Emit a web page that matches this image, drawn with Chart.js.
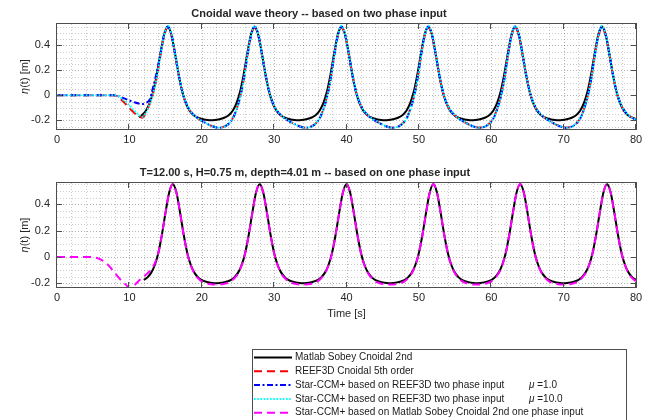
<!DOCTYPE html>
<html>
<head>
<meta charset="utf-8">
<script src="https://cdn.jsdelivr.net/npm/chart.js@4.4.1/dist/chart.umd.min.js"></script>
<style>
  html, body { margin: 0; padding: 0; background: #ffffff; }
  #wrap { position: relative; width: 649px; height: 420px; overflow: hidden; background: #ffffff; }
  canvas { position: absolute; left: 0; }
  #top { top: 0; }
  #bottom { top: 160px; }
</style>
</head>
<body>
<div id="wrap">
  <canvas id="top" width="649" height="160"></canvas>
  <canvas id="bottom" width="649" height="260"></canvas>
</div>
<script>
// ---------- time samples [s] ----------
const tTop = [
  0, 2, 4, 6, 7.8,
  8.3, 8.8, 9.3, 9.8, 10.3, 10.8, 11.3, 11.8, 12.3, 12.8, 13.3, 13.8, 14.3, 14.8,
  15.3, 15.8, 16.3, 16.8, 17.3, 17.8, 18.3, 18.8, 19.3, 19.8, 20.3, 20.8, 21.3, 21.8, 22.3, 22.8, 23.3, 23.8, 24.3, 24.8, 25.3, 25.8, 26.3, 26.8,
  27.3, 27.8, 28.3, 28.8, 29.3, 29.8, 30.3, 30.8, 31.3, 31.8, 32.3, 32.8, 33.3, 33.8, 34.3, 34.8, 35.3, 35.8, 36.3, 36.8, 37.3, 37.8, 38.3, 38.8,
  39.3, 39.8, 40.3, 40.8, 41.3, 41.8, 42.3, 42.8, 43.3, 43.8, 44.3, 44.8, 45.3, 45.8, 46.3, 46.8, 47.3, 47.8, 48.3, 48.8, 49.3, 49.8, 50.3, 50.8,
  51.3, 51.8, 52.3, 52.8, 53.3, 53.8, 54.3, 54.8, 55.3, 55.8, 56.3, 56.8, 57.3, 57.8, 58.3, 58.8, 59.3, 59.8, 60.3, 60.8, 61.3, 61.8, 62.3, 62.8,
  63.3, 63.8, 64.3, 64.8, 65.3, 65.8, 66.3, 66.8, 67.3, 67.8, 68.3, 68.8, 69.3, 69.8, 70.3, 70.8, 71.3, 71.8, 72.3, 72.8, 73.3, 73.8, 74.3, 74.8,
  75.3, 75.8, 76.3, 76.8, 77.3, 77.8, 78.3, 78.8, 79.3, 79.8,
  80
];

const tBottom = [
  0, 2, 4,
  5, 5.5, 6, 6.5, 7, 7.5, 8, 8.5, 9, 9.5, 10, 10.5, 11, 11.5,
  12, 12.5, 13, 13.5, 14, 14.5, 15, 15.5,
  16, 16.5, 17, 17.5, 18, 18.5, 19, 19.5, 20, 20.5, 21, 21.5, 22, 22.5, 23, 23.5, 24, 24.5, 25, 25.5, 26, 26.5, 27, 27.5,
  28, 28.5, 29, 29.5, 30, 30.5, 31, 31.5, 32, 32.5, 33, 33.5, 34, 34.5, 35, 35.5, 36, 36.5, 37, 37.5, 38, 38.5, 39, 39.5,
  40, 40.5, 41, 41.5, 42, 42.5, 43, 43.5, 44, 44.5, 45, 45.5, 46, 46.5, 47, 47.5, 48, 48.5, 49, 49.5, 50, 50.5, 51, 51.5,
  52, 52.5, 53, 53.5, 54, 54.5, 55, 55.5, 56, 56.5, 57, 57.5, 58, 58.5, 59, 59.5, 60, 60.5, 61, 61.5, 62, 62.5, 63, 63.5,
  64, 64.5, 65, 65.5, 66, 66.5, 67, 67.5, 68, 68.5, 69, 69.5, 70, 70.5, 71, 71.5, 72, 72.5, 73, 73.5, 74, 74.5, 75, 75.5,
  76, 76.5, 77, 77.5, 78, 78.5, 79, 79.5, 80
];

// ---------- surface elevation eta(t) [m], two phase input ----------
const sobeyTop = [
  null, null, null, null, null,
  null, null, null, null, null, null, -0.175, -0.155, -0.121, -0.063, 0.030, 0.170, 0.338, 0.488,
  0.550, 0.488, 0.338, 0.170, 0.030, -0.063, -0.121, -0.155, -0.175, -0.186, -0.193, -0.197, -0.199, -0.197, -0.193, -0.186, -0.175, -0.155, -0.121, -0.063, 0.030, 0.170, 0.338, 0.488,
  0.550, 0.488, 0.338, 0.170, 0.030, -0.063, -0.121, -0.155, -0.175, -0.186, -0.193, -0.197, -0.199, -0.197, -0.193, -0.186, -0.175, -0.155, -0.121, -0.063, 0.030, 0.170, 0.338, 0.488,
  0.550, 0.488, 0.338, 0.170, 0.030, -0.063, -0.121, -0.155, -0.175, -0.186, -0.193, -0.197, -0.199, -0.197, -0.193, -0.186, -0.175, -0.155, -0.121, -0.063, 0.030, 0.170, 0.338, 0.488,
  0.550, 0.488, 0.338, 0.170, 0.030, -0.063, -0.121, -0.155, -0.175, -0.186, -0.193, -0.197, -0.199, -0.197, -0.193, -0.186, -0.175, -0.155, -0.121, -0.063, 0.030, 0.170, 0.338, 0.488,
  0.550, 0.488, 0.338, 0.170, 0.030, -0.063, -0.121, -0.155, -0.175, -0.186, -0.193, -0.197, -0.199, -0.197, -0.193, -0.186, -0.175, -0.155, -0.121, -0.063, 0.030, 0.170, 0.338, 0.488,
  0.550, 0.488, 0.338, 0.170, 0.030, -0.063, -0.121, -0.155, -0.175, -0.186,
  -0.190
];

const reef3d = [
  0, 0, 0, 0, 0,
  -0.008, -0.030, -0.058, -0.090, -0.120, -0.147, -0.168, -0.179, -0.140, -0.070, 0.020, 0.150, 0.320, 0.478,
  0.542, 0.482, 0.332, 0.165, 0.030, -0.060, -0.117, -0.153, -0.178, -0.198, -0.215, -0.231, -0.244, -0.254, -0.259, -0.256, -0.245, -0.222, -0.183, -0.112, -0.012, 0.128, 0.318, 0.476,
  0.542, 0.482, 0.332, 0.165, 0.030, -0.060, -0.117, -0.153, -0.178, -0.198, -0.215, -0.231, -0.244, -0.254, -0.259, -0.256, -0.245, -0.222, -0.183, -0.112, -0.012, 0.128, 0.318, 0.476,
  0.542, 0.482, 0.332, 0.165, 0.030, -0.060, -0.117, -0.153, -0.178, -0.198, -0.215, -0.231, -0.244, -0.254, -0.259, -0.256, -0.245, -0.222, -0.183, -0.112, -0.012, 0.128, 0.318, 0.476,
  0.542, 0.482, 0.332, 0.165, 0.030, -0.060, -0.117, -0.153, -0.178, -0.198, -0.215, -0.231, -0.244, -0.254, -0.259, -0.256, -0.245, -0.222, -0.183, -0.112, -0.012, 0.128, 0.318, 0.476,
  0.542, 0.482, 0.332, 0.165, 0.030, -0.060, -0.117, -0.153, -0.178, -0.198, -0.215, -0.231, -0.244, -0.254, -0.259, -0.256, -0.245, -0.222, -0.183, -0.112, -0.012, 0.128, 0.318, 0.476,
  0.542, 0.482, 0.332, 0.165, 0.030, -0.060, -0.117, -0.153, -0.175, -0.188,
  -0.192
];

const starMu1 = [
  0, 0, 0, 0, 0,
  -0.004, -0.013, -0.024, -0.036, -0.048, -0.058, -0.066, -0.070, -0.060, -0.035, 0.070, 0.190, 0.335, 0.485,
  0.552, 0.490, 0.338, 0.170, 0.033, -0.057, -0.114, -0.151, -0.177, -0.197, -0.214, -0.230, -0.244, -0.254, -0.260, -0.257, -0.246, -0.223, -0.185, -0.115, -0.015, 0.125, 0.315, 0.478,
  0.552, 0.490, 0.338, 0.170, 0.033, -0.057, -0.114, -0.151, -0.177, -0.197, -0.214, -0.230, -0.244, -0.254, -0.260, -0.257, -0.246, -0.223, -0.185, -0.115, -0.015, 0.125, 0.315, 0.478,
  0.552, 0.490, 0.338, 0.170, 0.033, -0.057, -0.114, -0.151, -0.177, -0.197, -0.214, -0.230, -0.244, -0.254, -0.260, -0.257, -0.246, -0.223, -0.185, -0.115, -0.015, 0.125, 0.315, 0.478,
  0.552, 0.490, 0.338, 0.170, 0.033, -0.057, -0.114, -0.151, -0.177, -0.197, -0.214, -0.230, -0.244, -0.254, -0.260, -0.257, -0.246, -0.223, -0.185, -0.115, -0.015, 0.125, 0.315, 0.478,
  0.552, 0.490, 0.338, 0.170, 0.033, -0.057, -0.114, -0.151, -0.177, -0.197, -0.214, -0.230, -0.244, -0.254, -0.260, -0.257, -0.246, -0.223, -0.185, -0.115, -0.015, 0.125, 0.315, 0.478,
  0.552, 0.490, 0.338, 0.170, 0.033, -0.057, -0.114, -0.151, -0.176, -0.189,
  -0.193
];

const starMu10 = [
  0, 0, 0, 0, 0,
  -0.003, -0.018, -0.042, -0.070, -0.100, -0.130, -0.157, -0.172, -0.138, -0.072, 0.015, 0.150, 0.325, 0.482,
  0.557, 0.492, 0.339, 0.171, 0.034, -0.056, -0.113, -0.150, -0.177, -0.197, -0.214, -0.230, -0.244, -0.254, -0.260, -0.257, -0.246, -0.223, -0.185, -0.115, -0.015, 0.125, 0.315, 0.478,
  0.557, 0.492, 0.339, 0.171, 0.034, -0.056, -0.113, -0.150, -0.177, -0.197, -0.214, -0.230, -0.244, -0.254, -0.260, -0.257, -0.246, -0.223, -0.185, -0.115, -0.015, 0.125, 0.315, 0.478,
  0.557, 0.492, 0.339, 0.171, 0.034, -0.056, -0.113, -0.150, -0.177, -0.197, -0.214, -0.230, -0.244, -0.254, -0.260, -0.257, -0.246, -0.223, -0.185, -0.115, -0.015, 0.125, 0.315, 0.478,
  0.557, 0.492, 0.339, 0.171, 0.034, -0.056, -0.113, -0.150, -0.177, -0.197, -0.214, -0.230, -0.244, -0.254, -0.260, -0.257, -0.246, -0.223, -0.185, -0.115, -0.015, 0.125, 0.315, 0.478,
  0.557, 0.492, 0.339, 0.171, 0.034, -0.056, -0.113, -0.150, -0.177, -0.197, -0.214, -0.230, -0.244, -0.254, -0.260, -0.257, -0.246, -0.223, -0.185, -0.115, -0.015, 0.125, 0.315, 0.478,
  0.557, 0.492, 0.339, 0.171, 0.034, -0.056, -0.113, -0.150, -0.176, -0.189,
  -0.193
];

// ---------- surface elevation eta(t) [m], one phase input ----------
const sobeyBottom = [
  null, null, null,
  null, null, null, null, null, null, null, null, null, null, null, null, null, null,
  -0.175, -0.155, -0.121, -0.063, 0.030, 0.170, 0.338, 0.488,
  0.550, 0.488, 0.338, 0.170, 0.030, -0.063, -0.121, -0.155, -0.175, -0.186, -0.193, -0.197, -0.199, -0.197, -0.193, -0.186, -0.175, -0.155, -0.121, -0.063, 0.030, 0.170, 0.338, 0.488,
  0.550, 0.488, 0.338, 0.170, 0.030, -0.063, -0.121, -0.155, -0.175, -0.186, -0.193, -0.197, -0.199, -0.197, -0.193, -0.186, -0.175, -0.155, -0.121, -0.063, 0.030, 0.170, 0.338, 0.488,
  0.550, 0.488, 0.338, 0.170, 0.030, -0.063, -0.121, -0.155, -0.175, -0.186, -0.193, -0.197, -0.199, -0.197, -0.193, -0.186, -0.175, -0.155, -0.121, -0.063, 0.030, 0.170, 0.338, 0.488,
  0.550, 0.488, 0.338, 0.170, 0.030, -0.063, -0.121, -0.155, -0.175, -0.186, -0.193, -0.197, -0.199, -0.197, -0.193, -0.186, -0.175, -0.155, -0.121, -0.063, 0.030, 0.170, 0.338, 0.488,
  0.550, 0.488, 0.338, 0.170, 0.030, -0.063, -0.121, -0.155, -0.175, -0.186, -0.193, -0.197, -0.199, -0.197, -0.193, -0.186, -0.175, -0.155, -0.121, -0.063, 0.030, 0.170, 0.338, 0.488,
  0.550, 0.488, 0.338, 0.170, 0.030, -0.063, -0.121, -0.155, -0.175
];

const starOnePhase = [
  0, 0, 0,
  -0.003, -0.008, -0.018, -0.034, -0.057, -0.088, -0.122, -0.155, -0.185, -0.210, -0.235, -0.225, -0.198, -0.172,
  -0.150, -0.125, -0.095, -0.050, 0.030, 0.170, 0.335, 0.487,
  0.552, 0.487, 0.336, 0.168, 0.028, -0.066, -0.126, -0.162, -0.185, -0.198, -0.205, -0.209, -0.210, -0.209, -0.205, -0.198, -0.185, -0.162, -0.126, -0.066, 0.028, 0.168, 0.336, 0.487,
  0.552, 0.487, 0.336, 0.168, 0.028, -0.066, -0.126, -0.162, -0.185, -0.198, -0.205, -0.209, -0.210, -0.209, -0.205, -0.198, -0.185, -0.162, -0.126, -0.066, 0.028, 0.168, 0.336, 0.487,
  0.552, 0.487, 0.336, 0.168, 0.028, -0.066, -0.126, -0.162, -0.185, -0.198, -0.205, -0.209, -0.210, -0.209, -0.205, -0.198, -0.185, -0.162, -0.126, -0.066, 0.028, 0.168, 0.336, 0.487,
  0.552, 0.487, 0.336, 0.168, 0.028, -0.066, -0.126, -0.162, -0.185, -0.198, -0.205, -0.209, -0.210, -0.209, -0.205, -0.198, -0.185, -0.162, -0.126, -0.066, 0.028, 0.168, 0.336, 0.487,
  0.552, 0.487, 0.336, 0.168, 0.028, -0.066, -0.126, -0.162, -0.185, -0.198, -0.205, -0.209, -0.210, -0.209, -0.205, -0.198, -0.185, -0.162, -0.126, -0.066, 0.028, 0.168, 0.336, 0.487,
  0.552, 0.487, 0.336, 0.168, 0.028, -0.066, -0.126, -0.162, -0.185
];

// ---------- axis ticks and labels ----------
const xTickLabels = [0, 10, 20, 30, 40, 50, 60, 70, 80];
const yTickLabels = [-0.2, 0, 0.2, 0.4];
const legendNames = [
  'Matlab Sobey Cnoidal 2nd',
  'REEF3D Cnoidal 5th order',
  'Star-CCM+ based on REEF3D two phase input',
  'Star-CCM+ based on REEF3D two phase input',
  'Star-CCM+ based on Matlab Sobey Cnoidal 2nd one phase input'
];
const muValues = [null, null, 1.0, 10.0, null];

// ---------- line styles (later entries are drawn on top) ----------
const styles = [
  { color: '#000000', width: 2, dash: [] },
  { color: '#ff0000', width: 2, dash: [8, 5] },
  { color: '#0000ff', width: 2, dash: [6, 2.5, 2, 2.5] },
  { color: '#00ffff', width: 2, dash: [1.6, 1.6] },
  { color: '#ff00ff', width: 2, dash: [8, 5] }
];

const FONT = '"Liberation Sans", Arial, Helvetica, sans-serif';
const INK = '#262626';
const BOX = '#4d4d4d';
Chart.defaults.font.family = FONT;
Chart.defaults.color = INK;

function isIn(list, v) { return list.some(m => Math.abs(m - v) < 1e-9); }

function series(idx, times, values) {
  const s = styles[idx];
  return {
    label: legendNames[idx],
    data: times.map((t, i) => ({ x: t, y: values[i] })),
    borderColor: s.color,
    borderWidth: s.width,
    borderDash: s.dash,
    order: 10 - idx,
    pointRadius: 0,
    pointHoverRadius: 0,
    fill: false,
    spanGaps: false,
    cubicInterpolationMode: 'monotone'
  };
}

function scalesFor(yMin, yMax, xAxisHeight) {
  return {
    x: {
      type: 'linear', min: 0, max: 80,
      afterFit: s => { s.height = xAxisHeight; },
      grid: { display: false, drawTicks: false }, border: { display: false },
      ticks: {
        stepSize: 2, maxTicksLimit: 1000, autoSkip: false, includeBounds: false,
        maxRotation: 0, minRotation: 0, padding: 4, color: INK, font: { size: 11 },
        callback: v => isIn(xTickLabels, v) ? String(v) : ''
      }
    },
    y: {
      type: 'linear', min: yMin, max: yMax,
      afterFit: s => { s.width = 57; },
      grid: { display: false, drawTicks: false }, border: { display: false },
      ticks: {
        stepSize: 0.05, maxTicksLimit: 1000, autoSkip: false, includeBounds: false,
        padding: 7, color: INK, font: { size: 11 },
        callback: v => isIn(yTickLabels, v) ? String(Math.round(v * 10) / 10) : ''
      }
    }
  };
}

// grid, frame, titles and legend drawn around the chart area
const axesFrame = {
  id: 'axesFrame',
  beforeDatasetsDraw(chart) {
    const { ctx, chartArea: a, scales: { x, y } } = chart;
    ctx.save();
    ctx.lineWidth = 1;
    ctx.setLineDash([1, 2]);
    x.ticks.forEach(t => {
      const px = Math.round(x.getPixelForValue(t.value)) + 0.5;
      if (px <= a.left + 1 || px >= a.right - 1) return;
      ctx.strokeStyle = isIn(xTickLabels, t.value) ? 'rgba(0,0,0,0.30)' : 'rgba(0,0,0,0.20)';
      ctx.beginPath(); ctx.moveTo(px, a.top); ctx.lineTo(px, a.bottom); ctx.stroke();
    });
    y.ticks.forEach(t => {
      const py = Math.round(y.getPixelForValue(t.value)) + 0.5;
      if (py <= a.top + 1 || py >= a.bottom - 1) return;
      ctx.strokeStyle = isIn(yTickLabels, t.value) ? 'rgba(0,0,0,0.30)' : 'rgba(0,0,0,0.20)';
      ctx.beginPath(); ctx.moveTo(a.left, py); ctx.lineTo(a.right, py); ctx.stroke();
    });
    ctx.restore();
  },
  afterDatasetsDraw(chart) {
    const { ctx, chartArea: a, scales: { x, y } } = chart;
    const tl = 5;
    ctx.save();
    ctx.setLineDash([]);
    ctx.strokeStyle = BOX;
    ctx.lineWidth = 1;
    ctx.strokeRect(a.left - 0.5, a.top - 0.5, a.right - a.left + 1, a.bottom - a.top + 1);
    ctx.beginPath();
    x.ticks.forEach(t => {
      if (!isIn(xTickLabels, t.value)) return;
      const px = Math.round(x.getPixelForValue(t.value)) - 0.5;
      ctx.moveTo(px, a.bottom); ctx.lineTo(px, a.bottom - tl);
      ctx.moveTo(px, a.top); ctx.lineTo(px, a.top + tl);
    });
    y.ticks.forEach(t => {
      if (!isIn(yTickLabels, t.value)) return;
      const py = Math.round(y.getPixelForValue(t.value)) + 0.5;
      ctx.moveTo(a.left, py); ctx.lineTo(a.left + tl, py);
      ctx.moveTo(a.right, py); ctx.lineTo(a.right - tl, py);
    });
    ctx.stroke();
    ctx.restore();
  },
  afterDraw(chart, args, opts) {
    const { ctx, chartArea: a } = chart;
    ctx.save();
    ctx.fillStyle = INK;
    // title
    ctx.font = 'bold 11px ' + FONT;
    ctx.textAlign = 'center';
    ctx.textBaseline = 'middle';
    ctx.fillText(opts.title, opts.titleX, a.top - 10);
    // y label, eta in italics
    const cy = (a.top + a.bottom) / 2;
    ctx.translate(25, cy);
    ctx.rotate(-Math.PI / 2);
    ctx.font = 'italic 11px ' + FONT;
    const w1 = ctx.measureText('η').width;
    ctx.font = '11px ' + FONT;
    const w2 = ctx.measureText('(t) [m]').width;
    const x0 = -(w1 + w2) / 2;
    ctx.textAlign = 'left';
    ctx.font = 'italic 11px ' + FONT;
    ctx.fillText('η', x0, 0);
    ctx.font = '11px ' + FONT;
    ctx.fillText('(t) [m]', x0 + w1, 0);
    ctx.restore();

    if (opts.xlabel) {
      ctx.save();
      ctx.fillStyle = INK;
      ctx.font = '11px ' + FONT;
      ctx.textAlign = 'center';
      ctx.textBaseline = 'middle';
      ctx.fillText(opts.xlabel, (a.left + a.right) / 2, a.bottom + 27);
      ctx.restore();
    }

    if (opts.legend) {
      const L = 252, T = 189, R = 626;
      ctx.save();
      ctx.fillStyle = '#ffffff';
      ctx.fillRect(L, T, R - L, 100);
      ctx.strokeStyle = BOX;
      ctx.lineWidth = 1;
      ctx.strokeRect(L + 0.5, T + 0.5, R - L, 100);
      legendNames.forEach((name, i) => {
        const yy = T + 8.5 + i * 13.8;
        const s = styles[i];
        ctx.save();
        ctx.strokeStyle = s.color;
        ctx.lineWidth = s.width;
        ctx.setLineDash(s.dash);
        ctx.beginPath();
        ctx.moveTo(L + 2, yy); ctx.lineTo(L + 40, yy);
        ctx.stroke();
        ctx.restore();
        ctx.fillStyle = '#1a1a1a';
        ctx.textBaseline = 'middle';
        ctx.textAlign = 'left';
        ctx.font = '10px ' + FONT;
        ctx.fillText(name, L + 43, yy);
        if (muValues[i] !== null) {
          ctx.font = 'italic 10px ' + FONT;
          ctx.fillText('μ', 529, yy);
          const wm = ctx.measureText('μ ').width;
          ctx.font = '10px ' + FONT;
          ctx.fillText('=' + muValues[i].toFixed(1), 529 + wm, yy);
        }
      });
      ctx.restore();
    }
  }
};

function baseOptions(yMin, yMax, xAxisHeight, padTop, frameOpts) {
  return {
    responsive: false,
    animation: false,
    devicePixelRatio: 1,
    events: [],
    layout: { padding: { left: 0, right: 13, top: padTop, bottom: 0 } },
    scales: scalesFor(yMin, yMax, xAxisHeight),
    plugins: {
      legend: { display: false },
      tooltip: { enabled: false },
      axesFrame: frameOpts
    }
  };
}

new Chart(document.getElementById('top'), {
  type: 'line',
  data: {
    datasets: [
      series(0, tTop, sobeyTop),
      series(1, tTop, reef3d),
      series(2, tTop, starMu1),
      series(3, tTop, starMu10)
    ]
  },
  options: baseOptions(-0.27, 0.572, 31, 24, {
    title: 'Cnoidal wave theory -- based on two phase input',
    titleX: 319
  }),
  plugins: [axesFrame]
});

new Chart(document.getElementById('bottom'), {
  type: 'line',
  data: {
    datasets: [
      series(0, tBottom, sobeyBottom),
      series(4, tBottom, starOnePhase)
    ]
  },
  options: baseOptions(-0.228, 0.56, 133, 23, {
    title: 'T=12.00 s, H=0.75 m, depth=4.01 m -- based on one phase input',
    titleX: 305,
    xlabel: 'Time [s]',
    legend: true
  }),
  plugins: [axesFrame]
});
</script>
</body>
</html>
